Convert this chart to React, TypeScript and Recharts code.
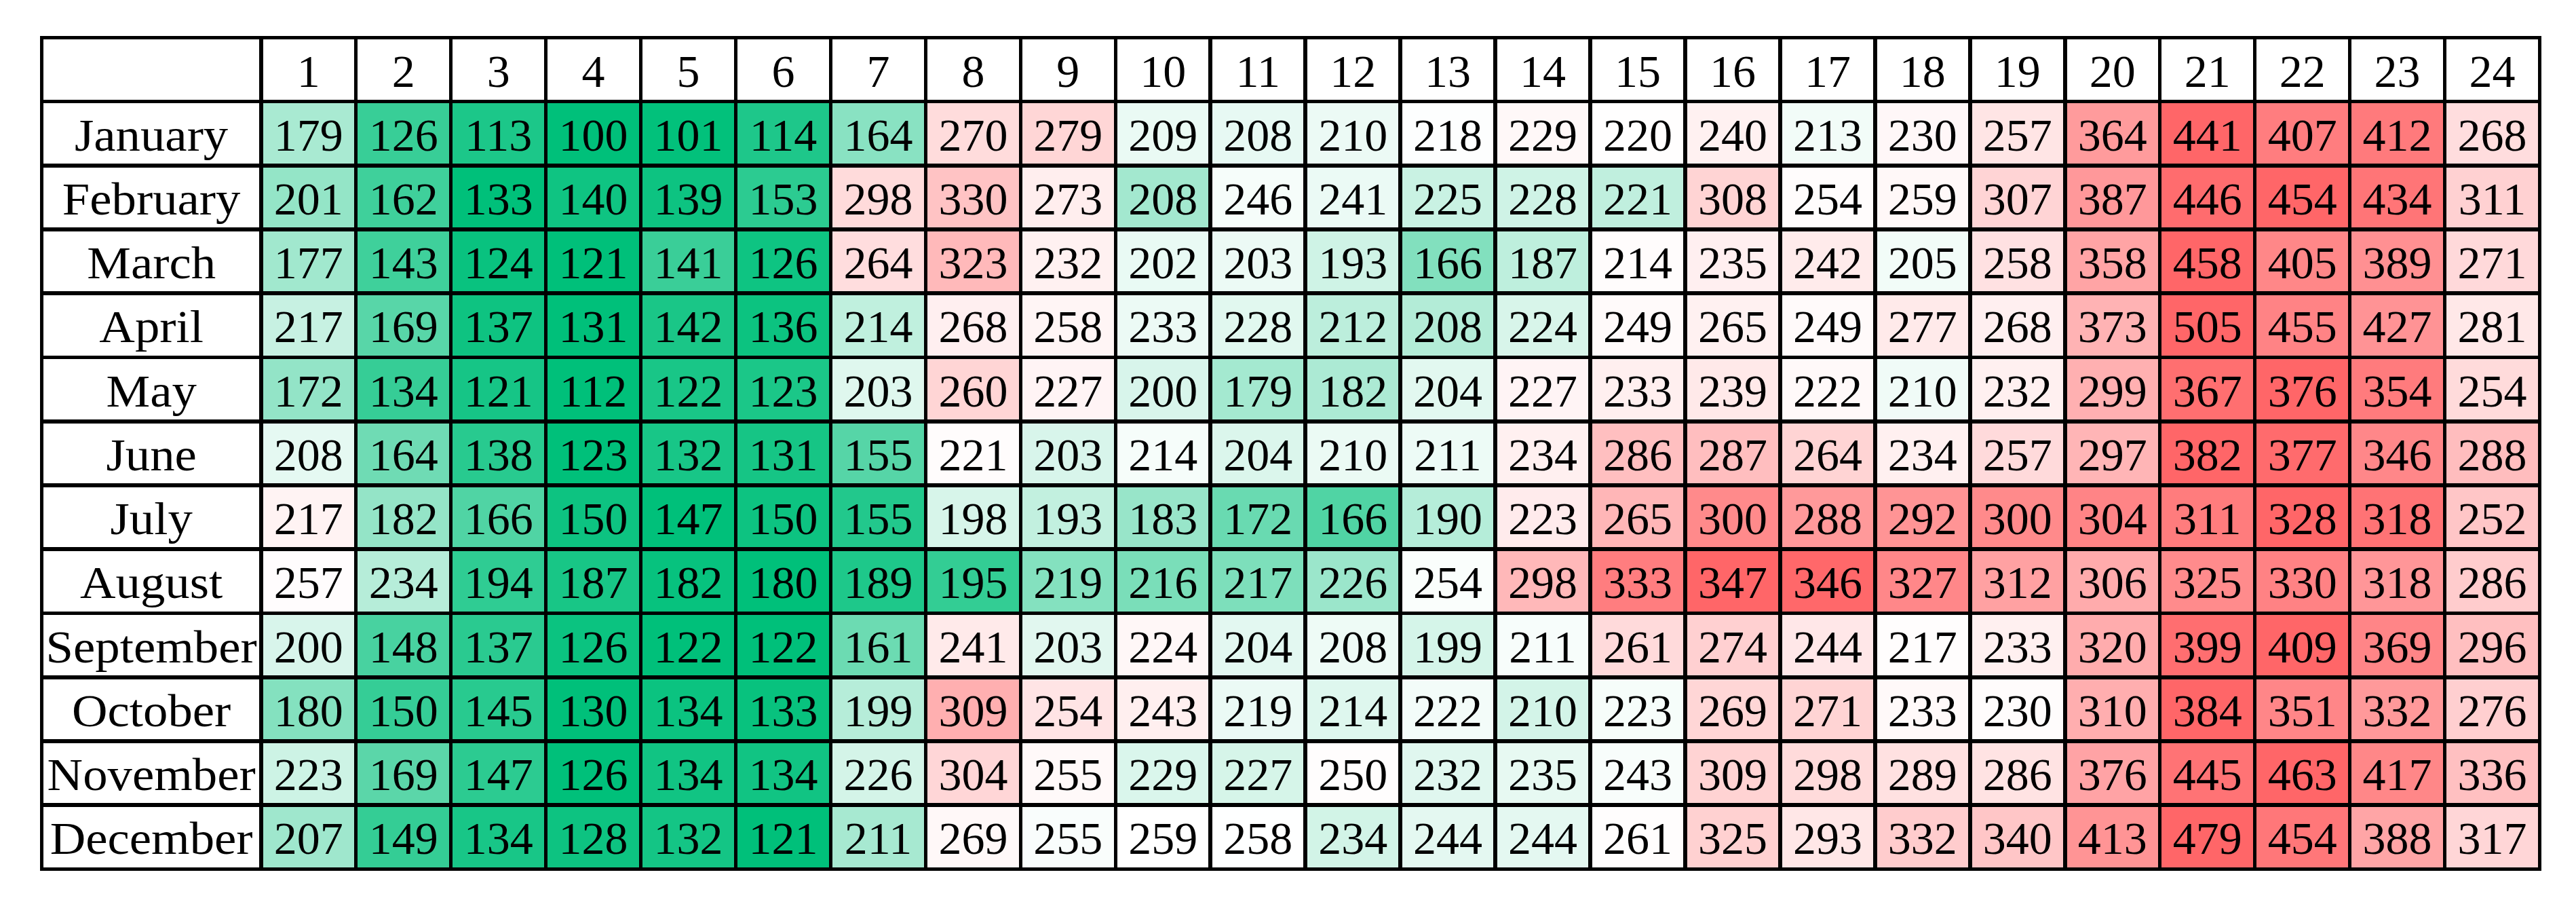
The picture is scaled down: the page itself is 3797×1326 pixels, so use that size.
import { Bar, BarChart, XAxis, YAxis } from "recharts";

const months = [
  "January", "February", "March", "April", "May", "June",
  "July", "August", "September", "October", "November", "December",
];
const hours = [1, 2, 3, 4, 5, 6, 7, 8, 9, 10, 11, 12, 13, 14, 15, 16, 17, 18, 19, 20, 21, 22, 23, 24];

const january = [179, 126, 113, 100, 101, 114, 164, 270, 279, 209, 208, 210, 218, 229, 220, 240, 213, 230, 257, 364, 441, 407, 412, 268];
const february = [201, 162, 133, 140, 139, 153, 298, 330, 273, 208, 246, 241, 225, 228, 221, 308, 254, 259, 307, 387, 446, 454, 434, 311];
const march = [177, 143, 124, 121, 141, 126, 264, 323, 232, 202, 203, 193, 166, 187, 214, 235, 242, 205, 258, 358, 458, 405, 389, 271];
const april = [217, 169, 137, 131, 142, 136, 214, 268, 258, 233, 228, 212, 208, 224, 249, 265, 249, 277, 268, 373, 505, 455, 427, 281];
const may = [172, 134, 121, 112, 122, 123, 203, 260, 227, 200, 179, 182, 204, 227, 233, 239, 222, 210, 232, 299, 367, 376, 354, 254];
const june = [208, 164, 138, 123, 132, 131, 155, 221, 203, 214, 204, 210, 211, 234, 286, 287, 264, 234, 257, 297, 382, 377, 346, 288];
const july = [217, 182, 166, 150, 147, 150, 155, 198, 193, 183, 172, 166, 190, 223, 265, 300, 288, 292, 300, 304, 311, 328, 318, 252];
const august = [257, 234, 194, 187, 182, 180, 189, 195, 219, 216, 217, 226, 254, 298, 333, 347, 346, 327, 312, 306, 325, 330, 318, 286];
const september = [200, 148, 137, 126, 122, 122, 161, 241, 203, 224, 204, 208, 199, 211, 261, 274, 244, 217, 233, 320, 399, 409, 369, 296];
const october = [180, 150, 145, 130, 134, 133, 199, 309, 254, 243, 219, 214, 222, 210, 223, 269, 271, 233, 230, 310, 384, 351, 332, 276];
const november = [223, 169, 147, 126, 134, 134, 226, 304, 255, 229, 227, 250, 232, 235, 243, 309, 298, 289, 286, 376, 445, 463, 417, 336];
const december = [207, 149, 134, 128, 132, 121, 211, 269, 255, 259, 258, 234, 244, 244, 261, 325, 293, 332, 340, 413, 479, 454, 388, 317];

const monthValues = [january, february, march, april, may, june, july, august, september, october, november, december];

// month-name column is ~2.31 hour-columns wide
const LABEL_SPAN = 2.31;
const BORDER = 5.5;
const FONT = "'Liberation Serif', 'Times New Roman', serif";
const FONT_SIZE = 68;
const BASE_SHIFT = 25;

const GREEN = [0, 192, 122];
const RED = [255, 102, 104];

type Row = { label: string; header: boolean; values: number[] };
type RowScale = { min: number; mid: number; max: number };

// excel-like 3 colour scale per row: min -> green, 50th percentile -> white, max -> red
function rowScale(values: number[]): RowScale {
  const s = [...values].sort((a, b) => a - b);
  const pos = (s.length - 1) * 0.5;
  const lo = Math.floor(pos);
  const mid = s[lo] + (s[Math.ceil(pos)] - s[lo]) * (pos - lo);
  return { min: s[0], mid, max: s[s.length - 1] };
}

function mix(target: number[], t: number) {
  const c = target.map((ch) => Math.round(255 + (ch - 255) * t));
  return `rgb(${c[0]},${c[1]},${c[2]})`;
}

function cellColor(v: number, sc: RowScale) {
  if (v <= sc.mid) {
    const t = sc.mid === sc.min ? 0 : (sc.mid - v) / (sc.mid - sc.min);
    return mix(GREEN, t);
  }
  const t = sc.max === sc.mid ? 0 : (v - sc.mid) / (sc.max - sc.mid);
  return mix(RED, t);
}

const rows: Row[] = [
  { label: "", header: true, values: [] },
  ...months.map((m, i) => ({ label: m, header: false, values: monthValues[i] })),
];
const scales = rows.map((r) => (r.header ? null : rowScale(r.values)));

// stable accessors for the stacked cells
const labelKey = () => LABEL_SPAN;
const hourKeys = hours.map(() => () => 1);

function MonthCell(props: any) {
  const { x, y, width, height, payload } = props;
  const cx = x + width / 2;
  const ty = y + height / 2 + BASE_SHIFT;
  return (
    <g>
      <rect
        x={x}
        y={y}
        width={width}
        height={height}
        fill="#ffffff"
        stroke="#000"
        strokeWidth={BORDER}
        shapeRendering="crispEdges"
      />
      {payload.label ? (
        <text
          transform={`translate(${cx} ${ty}) scale(1.07 1)`}
          textAnchor="middle"
          fontFamily={FONT}
          fontSize={FONT_SIZE}
          fill="#000"
        >
          {payload.label}
        </text>
      ) : null}
    </g>
  );
}

function hourCell(props: any, col: number) {
  const { x, y, width, height, payload } = props;
  const rowIdx = rows.indexOf(payload);
  const row: Row = payload;
  const sc = scales[rowIdx];
  const fill = row.header || !sc ? "#ffffff" : cellColor(row.values[col], sc);
  const text = row.header ? String(hours[col]) : String(row.values[col]);
  return (
    <g>
      <rect
        x={x}
        y={y}
        width={width}
        height={height}
        fill={fill}
        stroke="#000"
        strokeWidth={BORDER}
        shapeRendering="crispEdges"
      />
      <text
        x={x + width / 2}
        y={y + height / 2 + BASE_SHIFT}
        textAnchor="middle"
        fontFamily={FONT}
        fontSize={FONT_SIZE}
        fill="#000"
      >
        {text}
      </text>
    </g>
  );
}

export default function App() {
  return (
    <div style={{ width: 3780, height: 1300, background: "#fff" }}>
      <BarChart
        width={3780}
        height={1300}
        data={rows}
        layout="vertical"
        barCategoryGap={0}
        barGap={0}
        margin={{ top: 47.5, left: 53.5, right: 44.5, bottom: 27.3 }}
      >
        <XAxis type="number" domain={[0, LABEL_SPAN + hours.length]} hide />
        <YAxis type="category" dataKey="label" hide />
        <Bar dataKey={labelKey} stackId="t" isAnimationActive={false} shape={(p: any) => <MonthCell {...p} />} />
        {hours.map((h, col) => (
          <Bar
            key={h}
            dataKey={hourKeys[col]}
            stackId="t"
            isAnimationActive={false}
            shape={(p: any) => hourCell(p, col)}
          />
        ))}
      </BarChart>
    </div>
  );
}
